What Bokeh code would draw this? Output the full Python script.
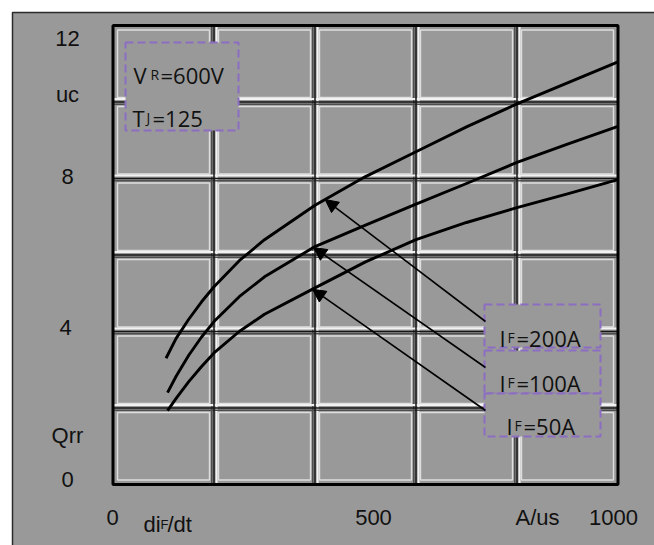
from bokeh.plotting import figure
from bokeh.models import Range1d, Arrow, NormalHead, ColumnDataSource
from bokeh.core.properties import value
from bokeh.embed import file_html
from bokeh.resources import INLINE
import numpy as np

# ---------------- data ----------------
didt_200 = [105, 125, 150, 175, 200, 250, 300, 400, 500, 600, 700, 800, 900, 1000]
qrr_200 = [3.3, 3.82, 4.32, 4.77, 5.17, 5.85, 6.4, 7.3, 8.05, 8.7, 9.35, 9.95, 10.5, 11.05]
didt_100 = [108, 125, 150, 175, 200, 250, 300, 400, 500, 600, 700, 800, 900, 1000]
qrr_100 = [2.4, 2.83, 3.38, 3.85, 4.26, 4.91, 5.43, 6.22, 6.78, 7.33, 7.87, 8.42, 8.9, 9.36]
didt_50 = [108, 125, 150, 175, 200, 250, 300, 400, 500, 600, 700, 800, 900, 1000]
qrr_50 = [1.93, 2.25, 2.69, 3.08, 3.44, 4.0, 4.45, 5.14, 5.82, 6.4, 6.85, 7.24, 7.6, 7.97]
if_values = ["200A", "100A", "50A"]
arrow_tip_didt = [420, 397, 395]
grid_x = [0, 200, 400, 600, 800, 1000]
grid_y = [0, 2, 4, 6, 8, 10, 12]
y_labels = ["12", "uc", "8", "4", "Qrr", "0"]
x_labels = ["0", "500", "A/us", "1000"]
cond_vr = "=600V"
cond_tj = "=125"

# ---------------- layout (page pixels) ----------------
W, H = 654, 545
OX, OY = 0, 0
X0P, X1P = 112.5, 617.5   # page x of di/dt = 0 and 1000
Y0P, Y1P = 484.0, 25.0    # page y of Qrr = 0 and 12
sx = (X1P - X0P) / (grid_x[-1] - grid_x[0])
sy = (Y0P - Y1P) / (grid_y[-1] - grid_y[0])


def dx(xp):
    return (xp - X0P) / sx


def dy(yp):
    return (Y0P - yp) / sy


p = figure(width=W, height=H,
           x_range=Range1d(dx(OX), dx(OX + W)),
           y_range=Range1d(dy(OY + H), dy(OY)),
           output_backend="svg", toolbar_location=None,
           x_axis_location=None, y_axis_location=None,
           min_border=0)
p.grid.visible = False
p.outline_line_color = None
p.background_fill_color = "white"
p.border_fill_color = "white"

GRAY = "#999999"
# outer grey panel
p.quad(left=[dx(12)], right=[dx(OX + W + 30)], top=[dy(12)], bottom=[dy(OY + H + 30)],
       fill_color=GRAY, line_color="#2a2a2a", line_width=1.5)

# embossed cells: light inner frames
cl, cr, cb, ct = [], [], [], []
for i in range(len(grid_x) - 1):
    for j in range(len(grid_y) - 1):
        cl.append(grid_x[i] + 4.5 / sx)
        cr.append(grid_x[i + 1] - 4.5 / sx)
        cb.append(grid_y[j] + 4.5 / sy)
        ct.append(grid_y[j + 1] - 4.5 / sy)
p.quad(left=cl, right=cr, bottom=cb, top=ct, fill_color=None,
       line_color="#dedede", line_width=1.4)

inner_x = grid_x[1:-1]
inner_y = grid_y[1:-1]
y_lo, y_hi = grid_y[0], grid_y[-1]
x_lo, x_hi = grid_x[0], grid_x[-1]
# flanks of vertical grid lines
p.segment(x0=[x - 2.2 / sx for x in inner_x], x1=[x - 2.2 / sx for x in inner_x],
          y0=[y_lo] * len(inner_x), y1=[y_hi] * len(inner_x), line_color="#4e4e4e", line_width=1.6)
p.segment(x0=[x + 2.6 / sx for x in inner_x], x1=[x + 2.6 / sx for x in inner_x],
          y0=[y_lo] * len(inner_x), y1=[y_hi] * len(inner_x), line_color="#f2f2f2", line_width=2)
# flanks of horizontal grid lines
p.segment(y0=[y + 3.0 / sy for y in inner_y], y1=[y + 3.0 / sy for y in inner_y],
          x0=[x_lo] * len(inner_y), x1=[x_hi] * len(inner_y), line_color="#f2f2f2", line_width=2)
p.segment(y0=[y - 2.2 / sy for y in inner_y], y1=[y - 2.2 / sy for y in inner_y],
          x0=[x_lo] * len(inner_y), x1=[x_hi] * len(inner_y), line_color="#4e4e4e", line_width=1.6)
# black grid lines
p.segment(x0=inner_x, x1=inner_x, y0=[y_lo] * len(inner_x), y1=[y_hi] * len(inner_x),
          line_color="#151515", line_width=1.5)
p.segment(y0=inner_y, y1=inner_y, x0=[x_lo] * len(inner_y), x1=[x_hi] * len(inner_y),
          line_color="#151515", line_width=1.5)
# plot frame
p.quad(left=[x_lo], right=[x_hi], bottom=[y_lo], top=[y_hi], fill_color=None,
       line_color="black", line_width=3)

# ---------------- curves ----------------
curves = [(didt_200, qrr_200), (didt_100, qrr_100), (didt_50, qrr_50)]
for xs, ys in curves:
    p.line(xs, ys, line_color="black", line_width=2.9, line_join="round")

PURPLE = "#8b6dc2"
# condition box
p.quad(left=[dx(125)], right=[dx(238)], top=[dy(42)], bottom=[dy(130)],
       fill_color=GRAY, line_color=PURPLE, line_width=2, line_dash="8 4")

# IF label boxes
box_top_px = [304, 350, 393]
box_bot_px = [347, 393, 436]
BOX_L, BOX_R = 484, 600
p.quad(left=[dx(BOX_L)] * 3, right=[dx(BOX_R)] * 3,
       top=[dy(t) for t in box_top_px], bottom=[dy(b) for b in box_bot_px],
       fill_color=GRAY, line_color=PURPLE, line_width=2, line_dash="8 4")

# arrows from boxes to curves
tip_y = [float(np.interp(t, c[0], c[1])) for t, c in zip(arrow_tip_didt, curves)]
asrc = ColumnDataSource(dict(
    xs=[dx(BOX_L + 1)] * 3,
    ys=[dy(t + 17) for t in box_top_px],
    xe=arrow_tip_didt,
    ye=tip_y,
))
p.add_layout(Arrow(end=NormalHead(size=13, fill_color="black", line_color="black"),
                   x_start="xs", y_start="ys", x_end="xe", y_end="ye",
                   line_color="black", line_width=1.6, source=asrc))

# ---------------- texts ----------------
AXF = value("Liberation Sans")
ANF = value("Open Sans")


def put(xp, yp, texts, size, font, align="left", baseline="alphabetic"):
    p.text(x=[dx(v) for v in xp], y=[dy(v) for v in yp], text=texts,
           text_font=font, text_font_size=size, text_align=align,
           text_baseline=baseline, text_color="#111111")


# y labels
put([67, 67, 67, 65, 67, 67], [38, 94, 176, 327, 435, 479], y_labels, "22px", AXF,
    align="center", baseline="middle")
# x labels
put([112, 373, 537, 613], [517, 517, 517, 517], x_labels, "22px", AXF,
    align="center", baseline="middle")
# di_F/dt
put([143], [524], ["di"], "22px", AXF)
put([160], [524], ["F"], "13px", AXF)
put([167], [524], ["/dt"], "22px", AXF)

# condition text
put([133], [74], ["V"], "22px", ANF)
put([150], [74], ["R"], "14px", ANF)
put([160], [74], [cond_vr], "22px", ANF)
put([132], [117], ["T"], "22px", ANF)
put([146], [117], ["J"], "14px", ANF)
put([152], [117], [cond_tj], "22px", ANF)

# IF labels
base_px = [337, 382, 425]
start_px = [499, 499, 506]
put(start_px, base_px, ["I"] * 3, "22px", ANF)
put([s + 8 for s in start_px], base_px, ["F"] * 3, "14px", ANF)
put([s + 17 for s in start_px], base_px, ["=" + v for v in if_values], "22px", ANF)

open("out.html", "w").write(file_html(p, INLINE))
